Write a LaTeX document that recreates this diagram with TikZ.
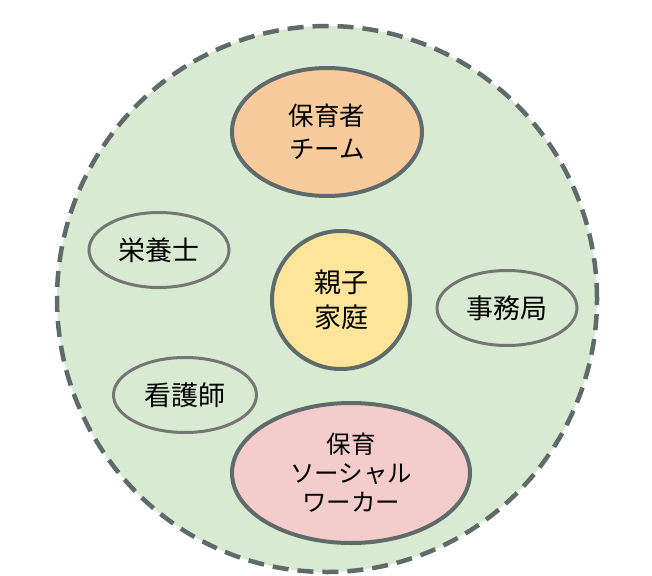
\documentclass[tikz,border=0pt]{standalone}
\usepackage{fontspec}
\newfontfamily\jp{Noto Sans CJK JP}
\usetikzlibrary{shapes.geometric}
\definecolor{bggreen}{HTML}{D9EAD3}
\definecolor{edgedark}{HTML}{5F6A6B}
\definecolor{edgegray}{HTML}{757575}
\definecolor{orangefill}{HTML}{F9CB9C}
\definecolor{yellowfill}{HTML}{FFE599}
\definecolor{pinkfill}{HTML}{F4CCCC}
\tikzset{
  mainrole/.style={ellipse, draw=edgedark, line width=4pt, inner sep=0pt,
    align=center, font=\jp\fontsize{25.5}{33}\selectfont},
  siderole/.style={ellipse, draw=edgegray, line width=3pt, inner sep=0pt,
    minimum width=140pt, minimum height=75pt, align=center,
    font=\jp\fontsize{27}{30}\selectfont},
}
\begin{document}
\begin{tikzpicture}[x=1pt,y=-1pt]
\useasboundingbox (0,0) rectangle (652,575);
\node[ellipse, fill=bggreen, draw=edgedark, line width=4.5pt,
  dash pattern=on 16pt off 9pt, minimum width=540pt, minimum height=546pt,
  inner sep=0pt] (area) at (327,299) {};
\node[mainrole, fill=orangefill, minimum width=190pt, minimum height=128pt]
  (team) at (327,132) {保育者\\チーム};
\node[mainrole, fill=yellowfill, minimum width=138pt, minimum height=138pt,
  font=\jp\fontsize{27}{35}\selectfont]
  (family) at (341,300) {親子\\家庭};
\node[mainrole, fill=pinkfill, minimum width=238pt, minimum height=140pt,
  font=\jp\fontsize{24.5}{29}\selectfont]
  (sw) at (351,473) {保育\\ソーシャル\\ワーカー};
\node[siderole] (eiyo) at (159,250) {栄養士};
\node[siderole] (jimu) at (507,308) {事務局};
\node[siderole, minimum width=143pt] (kango) at (185,395) {看護師};
\end{tikzpicture}
\end{document}
